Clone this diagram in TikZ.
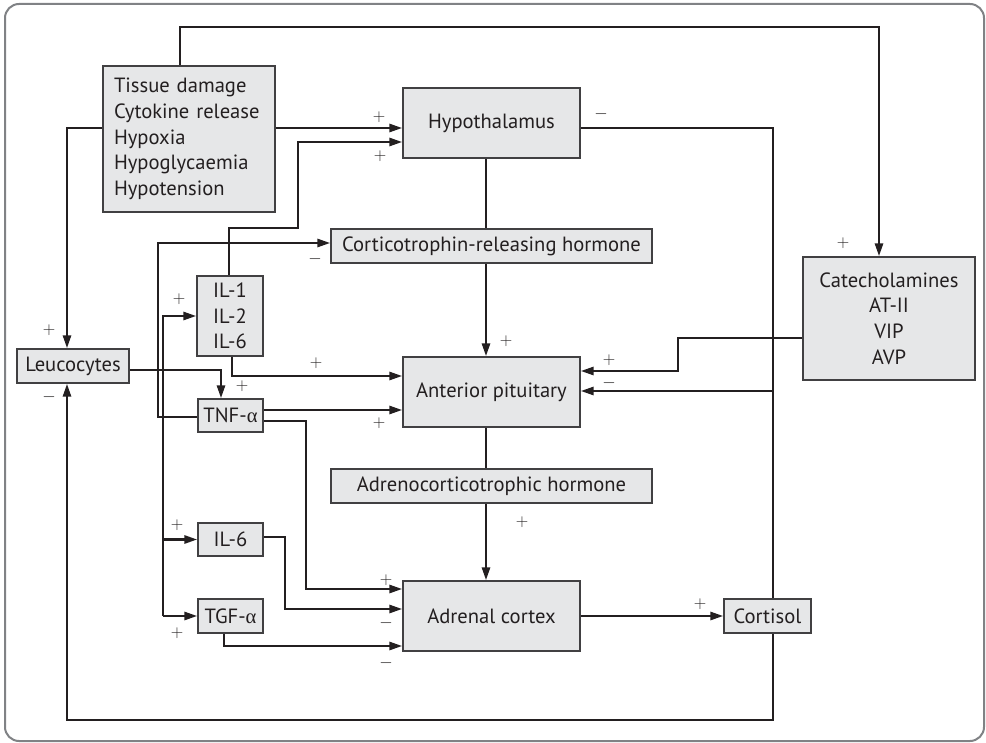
\documentclass[tikz,border=0pt]{standalone}
\usepackage{fontspec}
\setmainfont{PT Sans}
\newfontfamily\greekfont{Liberation Serif}
\usetikzlibrary{arrows.meta}
\definecolor{ink}{HTML}{231F20}
\definecolor{boxfill}{HTML}{E6E7E8}
\definecolor{boxline}{HTML}{414042}
\definecolor{framecol}{HTML}{808285}
\pgfdeclarelayer{bg}
\pgfsetlayers{bg,main}
\newcommand{\fs}{\fontsize{20.6}{25.7}\selectfont}
\newcommand{\sgnfs}{\fontsize{17}{18}\selectfont}
\newcommand{\pl}{$+$}
\newcommand{\mi}{$-$}
\begin{document}
\begin{tikzpicture}[x=1pt,y=-1pt,
  box/.style={draw=boxline, fill=boxfill, line width=1.3pt, inner sep=0pt, font=\fs, align=center, text=ink},
  conn/.style={draw=ink, line width=2.7pt},
  arr/.style={conn, -{Triangle[length=13pt,width=8pt]}},
  sgn/.style={font=\sgnfs, inner sep=0pt, text=ink}]
\useasboundingbox (0,0) rectangle (986,743);
\draw[framecol, line width=2pt, rounded corners=14pt] (5,4) rectangle (984,741);

% boxes
\node[box, minimum width=172pt, minimum height=146pt, text width=150pt, align=left] (tissue) at (189,139)
  {Tissue damage\\Cytokine release\\Hypoxia\\Hypoglycaemia\\Hypotension};
\node[box, minimum width=177pt, minimum height=70pt] (hyp) at (491.5,123) {Hypothalamus};
\node[box, minimum width=321pt, minimum height=34pt] (crh) at (491.5,246) {Corticotrophin-releasing hormone};
\node[box, minimum width=177pt, minimum height=70pt] (pit) at (491.5,392) {Anterior pituitary};
\node[box, minimum width=321pt, minimum height=34pt] (acth) at (491.5,486) {Adrenocorticotrophic hormone};
\node[box, minimum width=177pt, minimum height=70pt] (adr) at (491.5,616) {Adrenal cortex};
\node[box, minimum width=87pt, minimum height=34pt] (cort) at (767.5,616) {Cortisol};
\node[box, minimum width=172pt, minimum height=123pt] (cat) at (889,318.5) {Catecholamines\\AT-II\\VIP\\AVP};
\node[box, minimum width=112pt, minimum height=34pt] (leu) at (73,366) {Leucocytes};
\node[box, minimum width=66pt, minimum height=80pt] (il) at (230,316) {IL-1\\IL-2\\IL-6};
\node[box, minimum width=65pt, minimum height=33pt] (tnf) at (230.5,415.5) {TNF-{\greekfont α}};
\node[box, minimum width=65pt, minimum height=33pt] (il6) at (230.5,539.5) {IL-6};
\node[box, minimum width=65pt, minimum height=34pt] (tgf) at (230.5,616) {TGF-{\greekfont α}};

\begin{pgfonlayer}{bg}
% tissue -> catecholamines
\coordinate (tA) at (180,27); \coordinate (tB) at (879,27);
\draw[arr] (tissue.north -| tA) -- (tA) -- (tB) -- (tB |- cat.north);
% tissue -> hypothalamus
\coordinate (hin1) at ([yshift=-5pt]hyp.west);
\draw[arr] (tissue.east |- hin1) -- (hin1);
% IL -> hypothalamus
\coordinate (hin2) at ([yshift=-19pt]hyp.west);
\coordinate (c3a) at (229,228); \coordinate (c3b) at (298,228);
\draw[arr] (il.north -| c3a) -- (c3a) -- (c3b) -- (c3b |- hin2) -- (hin2);
% tissue -> leucocytes
\coordinate (c4) at (67,128);
\draw[arr] (tissue.west |- c4) -- (c4) -- (c4 |- leu.north);
% hypothalamus / cortisol feedback loop -> leucocytes
\coordinate (c5a) at (773,128); \coordinate (c5b) at (773,720); \coordinate (c5c) at (67,720);
\draw[arr] (hyp.east |- c5a) -- (c5a) -- (c5b) -- (c5c) -- (c5c |- leu.south);
% feedback -> pituitary
\coordinate (pin2) at ([yshift=1pt]pit.east);
\draw[arr] (c5a |- pin2) -- (pin2);
% catecholamines -> pituitary
\coordinate (pin1) at ([yshift=21pt]pit.east);
\coordinate (c7) at (678,338);
\draw[arr] (cat.west |- c7) -- (c7) -- (c7 |- pin1) -- (pin1);
% main axis
\coordinate (vx) at (486,0);
\draw[conn] (hyp.south -| vx) -- (crh.north -| vx);
\draw[arr] (crh.south -| vx) -- (pit.north -| vx);
\draw[conn] (pit.south -| vx) -- (acth.north -| vx);
\draw[arr] (acth.south -| vx) -- (adr.north -| vx);
\draw[arr] (adr.east) -- (cort.west);
% TNF -> CRH
\coordinate (c13) at (158,417); \coordinate (crhin) at ([yshift=3pt]crh.west);
\draw[arr] (tnf.west |- c13) -- (c13) -- (c13 |- crhin) -- (crhin);
% bus to IL, IL-6, TGF
\coordinate (bus) at (163,616);
\draw[arr] (bus) |- (il.west);
\draw[arr] (bus) -- (tgf.west);
\draw[arr] (bus |- il6.west) -- (il6.west);
% leucocytes -> TNF
\coordinate (c15) at (221,370);
\draw[arr] (leu.east |- c15) -- (c15) -- (c15 |- tnf.north);
% IL -> pituitary
\coordinate (c16) at (232,376);
\draw[arr] (il.south -| c16) -- (c16) -- (pit.west |- c16);
% TNF -> pituitary
\coordinate (c17) at (263,410);
\draw[arr] (tnf.east |- c17) -- (pit.west |- c17);
% TNF -> adrenal
\coordinate (c18a) at (306,421); \coordinate (c18b) at (306,589);
\draw[arr] (tnf.east |- c18a) -- (c18a) -- (c18b) -- (adr.west |- c18b);
% IL-6 -> adrenal
\coordinate (c19a) at (285,537); \coordinate (c19b) at (285,609);
\draw[arr] (il6.east |- c19a) -- (c19a) -- (c19b) -- (adr.west |- c19b);
% TGF -> adrenal
\coordinate (c20a) at (224,646);
\draw[arr] (tgf.south -| c20a) -- (c20a) -- (adr.west |- c20a);
\end{pgfonlayer}

% signs
\node[sgn] (s1) at (843,243) {\pl};
\node[sgn] (s2) at (379,117) {\pl};
\node[sgn] (s3) at (380,156) {\pl};
\node[sgn] (s4) at (49,330) {\pl};
\node[sgn] (s5) at (49,397) {\mi};
\node[sgn] (s6) at (601,114) {\mi};
\node[sgn] (s7) at (609,360) {\pl};
\node[sgn] (s8) at (609,383) {\mi};
\node[sgn] (s9) at (506,341) {\pl};
\node[sgn] (s10) at (522,522) {\pl};
\node[sgn] (s11) at (700,604) {\pl};
\node[sgn] (s12) at (315,259) {\mi};
\node[sgn] (s13) at (179,299) {\pl};
\node[sgn] (s14) at (177,525) {\pl};
\node[sgn] (s15) at (177,633) {\pl};
\node[sgn] (s16) at (242,386) {\pl};
\node[sgn] (s17) at (316,363) {\pl};
\node[sgn] (s18) at (379,423) {\pl};
\node[sgn] (s19) at (386,580) {\pl};
\node[sgn] (s20) at (386,623) {\mi};
\node[sgn] (s21) at (386,663) {\mi};
\end{tikzpicture}
\end{document}
